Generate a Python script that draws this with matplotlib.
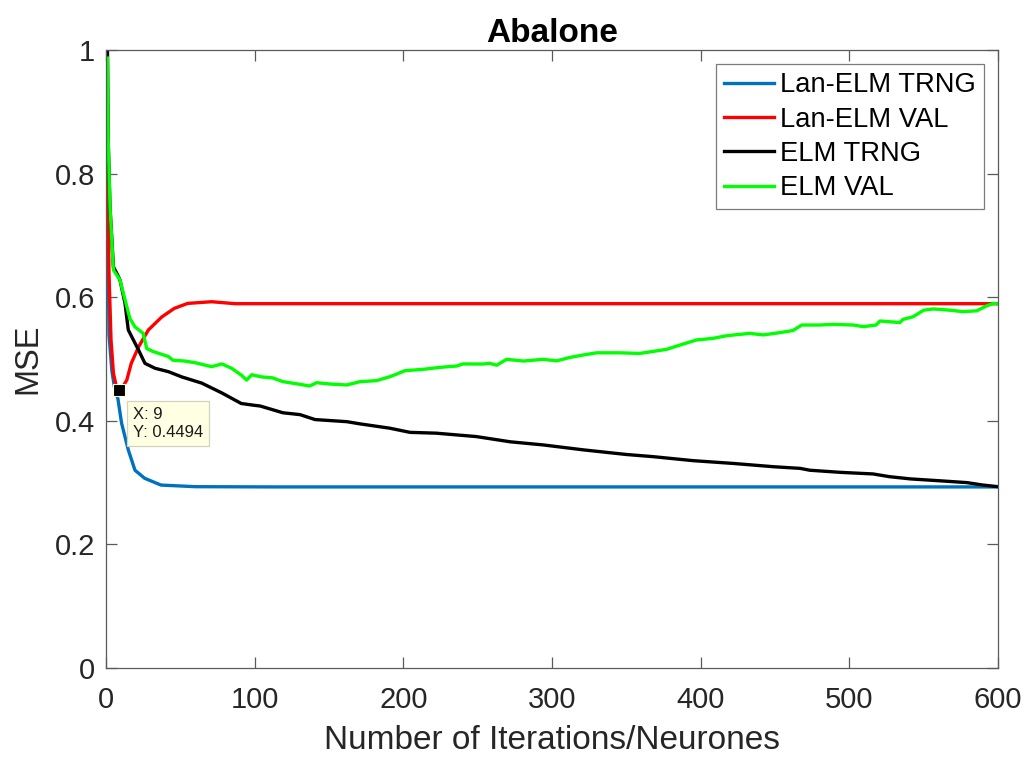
import matplotlib
matplotlib.use("Agg")
import matplotlib.pyplot as plt

plt.rcParams['font.family'] = ['Liberation Sans', 'DejaVu Sans']

# Lan-ELM training error
lan_trng_x = [1, 2, 4, 6, 8, 10.5, 15, 19.5, 26, 37, 60, 114, 300, 600]
lan_trng_y = [0.80, 0.54, 0.48, 0.45, 0.436, 0.396, 0.353, 0.320, 0.307, 0.296, 0.2934, 0.293, 0.293, 0.293]

# Lan-ELM validation error
lan_val_x = [1, 2, 3.4, 5, 7, 9, 12, 14, 17, 22, 28.5, 37.5, 46, 55, 71, 87, 100, 300, 600]
lan_val_y = [0.86, 0.64, 0.53, 0.477, 0.455, 0.4494, 0.458, 0.466, 0.493, 0.52, 0.547, 0.568, 0.582,
             0.590, 0.5927, 0.5895, 0.5895, 0.5895, 0.5895]

# ELM training error
elm_trng_x = [1, 1.5, 2.7, 5, 7.2, 9.4, 12.8, 15, 18.4, 21.8, 26.2, 33, 42, 51, 64.4, 78, 91, 100,
              103.6, 119, 130.5, 140.6, 162, 171, 191, 204.5, 222, 249, 272, 294, 321, 350, 368,
              395, 422, 449, 467, 473.5, 494, 516, 527, 541, 563, 579, 590, 600]
elm_trng_y = [1.0, 0.854, 0.746, 0.649, 0.639, 0.628, 0.590, 0.547, 0.531, 0.515, 0.493, 0.485,
              0.4795, 0.471, 0.461, 0.445, 0.428, 0.425, 0.424, 0.413, 0.410, 0.402, 0.3986, 0.395,
              0.388, 0.3813, 0.380, 0.3745, 0.366, 0.361, 0.353, 0.3455, 0.342, 0.3355, 0.331,
              0.3257, 0.323, 0.320, 0.3166, 0.314, 0.3096, 0.306, 0.3026, 0.300, 0.296, 0.2934]

# ELM validation error
elm_val_x = [1, 1.5, 2.7, 5, 7.2, 9.4, 11.7, 14, 16, 19.5, 25, 27.4, 31.8, 42, 45, 53, 60, 71, 78,
             84.5, 91, 94.6, 98, 104.7, 112, 119, 130.5, 137, 141.7, 150.7, 162, 171, 182, 191,
             195.6, 201, 213.4, 224.7, 236, 240, 253.8, 258, 262.8, 269.5, 280.7, 294, 303, 312,
             321, 330, 339, 345.7, 359, 377, 384, 397, 408.5, 417.5, 433, 442, 453, 462, 468, 480,
             489, 502.7, 509.4, 518, 520.6, 534, 536, 543, 550, 556.5, 567.7, 576.6, 585.7, 592.4,
             597, 600]
elm_val_y = [0.987, 0.854, 0.746, 0.644, 0.636, 0.628, 0.606, 0.585, 0.566, 0.552, 0.5415, 0.517,
             0.512, 0.504, 0.498, 0.4967, 0.494, 0.4876, 0.492, 0.485, 0.474, 0.466, 0.4745, 0.471,
             0.4695, 0.4634, 0.459, 0.4563, 0.4617, 0.4595, 0.458, 0.4634, 0.465, 0.4714, 0.4757,
             0.481, 0.4833, 0.4865, 0.4887, 0.492, 0.4919, 0.493, 0.490, 0.4995, 0.4967, 0.4995,
             0.497, 0.5025, 0.5065, 0.510, 0.510, 0.510, 0.509, 0.5156, 0.521, 0.5307, 0.5335,
             0.5377, 0.5415, 0.539, 0.5426, 0.546, 0.555, 0.555, 0.556, 0.555, 0.5523, 0.555,
             0.5615, 0.559, 0.564, 0.5685, 0.579, 0.581, 0.579, 0.5766, 0.578, 0.586, 0.590, 0.589]

tip_x, tip_y = 9, 0.4494

fig = plt.figure(figsize=(10.28, 7.59), dpi=100)
ax = fig.add_axes([0.1031, 0.1199, 0.8677, 0.8142])

lw = 2.4
ax.plot(lan_trng_x, lan_trng_y, color='#0072BD', lw=lw, label='Lan-ELM TRNG')
ax.plot(lan_val_x, lan_val_y, color='#FF0000', lw=lw, label='Lan-ELM VAL')
ax.plot(elm_trng_x, elm_trng_y, color='#000000', lw=lw, label='ELM TRNG')
ax.plot(elm_val_x, elm_val_y, color='#00FF00', lw=lw, label='ELM VAL')

# data tip on the validation minimum
ax.plot([tip_x], [tip_y], marker='s', ms=8.6, color='black', mec='#FFFFE0', mew=0.8, zorder=5)
ax.annotate(f"X: {tip_x}\nY: {tip_y}", xy=(tip_x, tip_y), xytext=(9.7, -12),
            textcoords='offset points', ha='left', va='top', fontsize=12, linespacing=1.25,
            color='#1a1a1a',
            bbox=dict(boxstyle='square,pad=0.38', fc='#FFFFE3', ec='#D2D2BE', lw=0.9), zorder=6)

ax.set_xlim(0, 600)
ax.set_ylim(0, 1)
ax.set_xticks(range(0, 601, 100))
ax.set_yticks([0, 0.2, 0.4, 0.6, 0.8, 1])
ax.set_yticklabels(['0', '0.2', '0.4', '0.6', '0.8', '1'])

edge = '#262626'
for s in ax.spines.values():
    s.set_color('#5a5a5a')
    s.set_linewidth(0.9)
ax.tick_params(direction='in', length=8, width=0.9, colors='#5a5a5a', labelcolor=edge,
               labelsize=21, top=True, right=True)
ax.tick_params(axis='x', pad=13)
ax.tick_params(axis='y', pad=8)

ax.set_xlabel('Number of Iterations/Neurones', fontsize=24, color=edge, labelpad=8)
ax.set_ylabel('MSE', fontsize=23.5, color=edge, labelpad=8)
ax.set_title('Abalone', fontsize=24, fontweight='bold', pad=6)

leg = ax.legend(loc='upper right', fontsize=19.7, frameon=True, fancybox=False,
                handlelength=1.83, handletextpad=0.2, borderpad=0.3, labelspacing=0.3,
                borderaxespad=0.52)
leg.get_frame().set_edgecolor('#5a5a5a')
leg.get_frame().set_linewidth(0.9)

fig.savefig('out.png', dpi=100)
